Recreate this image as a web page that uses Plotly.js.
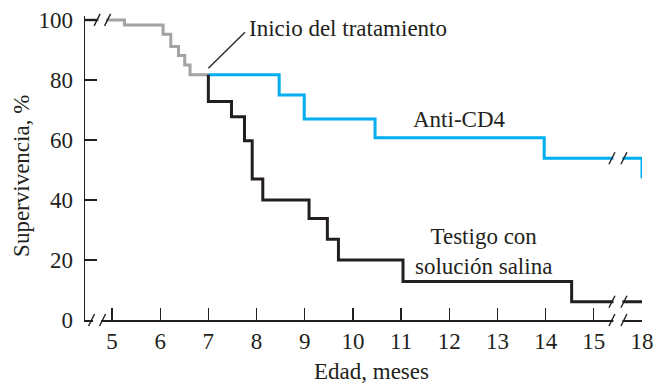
<!DOCTYPE html>
<html>
<head>
<meta charset="utf-8">
<script src="https://cdn.plot.ly/plotly-3.0.1.min.js"></script>
<style>
html,body{margin:0;padding:0;background:#fff;}
#chart{width:653px;height:383px;}
</style>
</head>
<body>
<div id="chart"></div>
<script>
// ---- data ----
const tickMonths = [5, 6, 7, 8, 9, 10, 11, 12, 13, 14, 15, 18];
const tickLabels = ['5', '6', '7', '8', '9', '10', '11', '12', '13', '14', '15', '18'];
const yTicks = [0, 20, 40, 60, 80, 100];
const yTickLabels = ['0', '20', '40', '60', '80', '100'];

// before treatment (all animals)
const preMonths = [4.44, 5.26, 6.06, 6.22, 6.38, 6.51, 6.62, 7.0];
const preSurv   = [100, 98.3, 95.2, 91.1, 88.1, 85.0, 81.7, 81.7];

// Anti-CD4
const antiMonths = [7.0, 8.47, 8.99, 10.46, 13.97, 18, 18];
const antiSurv   = [81.7, 75.0, 67.0, 60.7, 53.9, 53.9, 47.2];

// Testigo con solucion salina
const salMonths = [7.0, 7.0, 7.48, 7.75, 7.91, 8.13, 9.09, 9.47, 9.7, 11.04, 14.54, 18];
const salSurv   = [81.7, 72.8, 67.7, 59.7, 47.0, 40.0, 33.8, 26.9, 20.0, 12.8, 6.1, 6.1];

// ---- broken x axis: months 15..18 compressed, 18 drawn one unit after 15 ----
const BREAK_SHIFT = 2;
const axisPos = m => (m > 15.5 ? m - BREAK_SHIFT : m);

const X_MIN = 4.44, X_MAX = 16;
const Y_MIN = 0, Y_MAX = 101.3;

const DARK = '#231f20';
const BLUE = '#00aeef';
const GRAY = '#a3a3a3';
const FONT = 'Liberation Serif, Times New Roman, serif';

const paperX = d => (d - X_MIN) / (X_MAX - X_MIN);
const paperY = v => (v - Y_MIN) / (Y_MAX - Y_MIN);

function line(xs, ys, color) {
  return {
    type: 'scatter', mode: 'lines',
    x: xs.map(axisPos), y: ys,
    line: {shape: 'hv', color: color, width: 3},
    cliponaxis: false, hoverinfo: 'skip', showlegend: false
  };
}

const traces = [
  line(preMonths, preSurv, GRAY),
  line(antiMonths, antiSurv, BLUE),
  line(salMonths, salSurv, DARK)
];

// break marks  "/ /"
function gap(xd, yv, half) {
  return {type: 'rect', layer: 'above', xref: 'paper', yref: 'paper',
    xsizemode: 'pixel', ysizemode: 'pixel', xanchor: paperX(xd), yanchor: paperY(yv),
    x0: -half, x1: half, y0: -4, y1: 4,
    fillcolor: '#ffffff', line: {width: 0}};
}
function slash(xd, yv, dx) {
  return {type: 'line', layer: 'above', xref: 'paper', yref: 'paper',
    xsizemode: 'pixel', ysizemode: 'pixel', xanchor: paperX(xd), yanchor: paperY(yv),
    x0: dx - 3, x1: dx + 3, y0: -6, y1: 6,
    line: {color: DARK, width: 1.4}};
}
function brk(xd, yv, sep) {
  return [gap(xd, yv, sep - 1.5), slash(xd, yv, -sep), slash(xd, yv, sep)];
}
const RIGHT_BREAK = 15.5;
const shapes = [].concat(
  brk(4.69, 0, 5.5),                          // x axis, left
  brk(4.80, preSurv[0], 5.2),                 // pre-treatment line, left
  brk(RIGHT_BREAK, 0, 6),                     // x axis, right
  brk(RIGHT_BREAK, antiSurv[antiSurv.length - 2], 6),
  brk(RIGHT_BREAK, salSurv[salSurv.length - 1], 6),
  [{type: 'line', xref: 'x', yref: 'y', x0: 7.0, y0: 83.9, x1: 7.76, y1: 95.9,
    line: {color: DARK, width: 1.3}}]
);

const tf = {family: FONT, size: 23, color: DARK};

const annotations = [
  {text: 'Inicio del tratamiento', xref: 'x', yref: 'y', x: 7.80, y: 97.3,
   xanchor: 'left', yanchor: 'middle', showarrow: false, font: tf},
  {text: 'Anti-CD4', xref: 'x', yref: 'y', x: 12.22, y: 66.9,
   xanchor: 'center', yanchor: 'middle', showarrow: false, font: tf},
  {text: 'Testigo con<br>solución salina', xref: 'x', yref: 'y', x: 12.72, y: 22.8,
   xanchor: 'center', yanchor: 'middle', showarrow: false, font: tf},
  // axis titles
  {text: 'Edad, meses', xref: 'paper', yref: 'paper', x: 0.5135, y: -0.171,
   xanchor: 'center', yanchor: 'middle', showarrow: false, font: tf},
  {text: 'Supervivencia, %', xref: 'paper', yref: 'paper', x: -0.1131, y: 0.474,
   xanchor: 'center', yanchor: 'middle', textangle: -90, showarrow: false, font: tf}
];

const layout = {
  width: 653, height: 383,
  margin: {l: 85, r: 11, t: 16, b: 63, pad: 0},
  paper_bgcolor: '#ffffff', plot_bgcolor: '#ffffff',
  showlegend: false,
  font: tf,
  xaxis: {
    range: [X_MIN, X_MAX], automargin: false,
    tickvals: tickMonths.map(axisPos), ticktext: tickLabels,
    ticks: 'inside', ticklen: 12, tickwidth: 1.3, tickcolor: DARK,
    ticklabeloverflow: 'allow',
    showline: true, linecolor: DARK, linewidth: 1.5,
    showgrid: false, zeroline: false, tickfont: tf
  },
  yaxis: {
    range: [Y_MIN, Y_MAX], automargin: false,
    tickvals: yTicks, ticktext: yTickLabels,
    ticks: 'inside', ticklen: 12, tickwidth: 1.3, tickcolor: DARK,
    ticklabeloverflow: 'allow',
    showline: true, linecolor: DARK, linewidth: 1.5,
    showgrid: false, zeroline: false, tickfont: tf, ticklabelstandoff: 6
  },
  shapes: shapes,
  annotations: annotations
};

Plotly.newPlot('chart', traces, layout, {staticPlot: true, displayModeBar: false});
</script>
</body>
</html>
